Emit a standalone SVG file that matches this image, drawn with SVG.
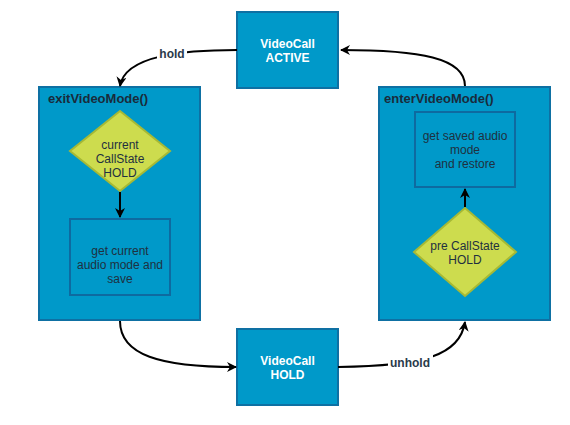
<svg xmlns="http://www.w3.org/2000/svg" width="570" height="425" viewBox="0 0 570 425">
<defs>
<marker id="ah" viewBox="0 0 10 10" refX="9" refY="5" markerWidth="10" markerHeight="10" markerUnits="userSpaceOnUse" orient="auto">
<path d="M0,0 L10,5 L0,10 L3,5 Z" fill="#000"/>
</marker>
</defs>
<style>
.box{fill:#0099c9;stroke:#0e70a3;stroke-width:2}
.inner{fill:#0099c9;stroke:#0e6aa0;stroke-width:2}
.dia{fill:#cddc4e;stroke:#a6b935;stroke-width:2}
.t{font-family:"Liberation Sans",Arial,sans-serif;font-size:12px;text-anchor:middle}
.w{fill:#ffffff;font-weight:bold}
.d{fill:#1f3040}
.title{font-family:"Liberation Sans",Arial,sans-serif;font-size:13px;font-weight:bold;fill:#1a2b3b}
.edge{fill:none;stroke:#000;stroke-width:2;marker-end:url(#ah)}
.lbl{font-family:"Liberation Sans",Arial,sans-serif;font-size:12px;font-weight:bold;fill:#2a3a4a;text-anchor:middle}
</style>
<rect width="570" height="425" fill="#ffffff"/>
<g id="active">
<rect class="box" x="237" y="12" width="101" height="76"/>
<text class="t w" x="287.5" y="48">VideoCall</text>
<text class="t w" x="287.5" y="62">ACTIVE</text>
</g>
<g id="hold">
<rect class="box" x="237" y="329" width="101" height="76"/>
<text class="t w" x="287.5" y="365">VideoCall</text>
<text class="t w" x="287.5" y="379">HOLD</text>
</g>
<g id="exitVideoMode">
<rect class="box" x="39" y="87" width="161" height="233"/>
<text class="title" x="48" y="103">exitVideoMode()</text>
</g>
<g id="currentCallState">
<polygon class="dia" points="120,111 170,151 120,191 70,151"/>
<text class="t d" x="120" y="149">current</text>
<text class="t d" x="120" y="163">CallState</text>
<text class="t d" x="120" y="177">HOLD</text>
</g>
<g id="getCurrent">
<rect class="inner" x="70" y="219" width="100" height="76"/>
<text class="t d" x="120" y="255">get current</text>
<text class="t d" x="120" y="269">audio mode and</text>
<text class="t d" x="120" y="283">save</text>
</g>
<g id="enterVideoMode">
<rect class="box" x="379" y="87" width="171" height="233"/>
<text class="title" x="384" y="103">enterVideoMode()</text>
</g>
<g id="getSaved">
<rect class="inner" x="415" y="112" width="100" height="75"/>
<text class="t d" x="465" y="140">get saved audio</text>
<text class="t d" x="465" y="154">mode</text>
<text class="t d" x="465" y="168">and restore</text>
</g>
<g id="preCallState">
<polygon class="dia" points="465,208 516,252 465,296 414,252"/>
<text class="t d" x="465" y="250">pre CallState</text>
<text class="t d" x="465" y="264">HOLD</text>
</g>
<g id="connectors">
<path class="edge" d="M237,50 C185,50 125,55 120,86"/>
<path class="edge" d="M465,86 C465,58 420,50 341,50"/>
<path class="edge" d="M120,321 C120,355 160,367 236,367"/>
<path class="edge" d="M338,367 C425,366 460,355 465,322"/>
<path class="edge" d="M120,192 L120,217"/>
<path class="edge" d="M465,207 L465,189"/>
<rect x="157" y="46" width="30" height="16" fill="#ffffff"/>
<text class="lbl" x="172" y="58">hold</text>
<rect x="388" y="355" width="45" height="16" fill="#ffffff"/>
<text class="lbl" x="410" y="367">unhold</text>
</g>
</svg>
